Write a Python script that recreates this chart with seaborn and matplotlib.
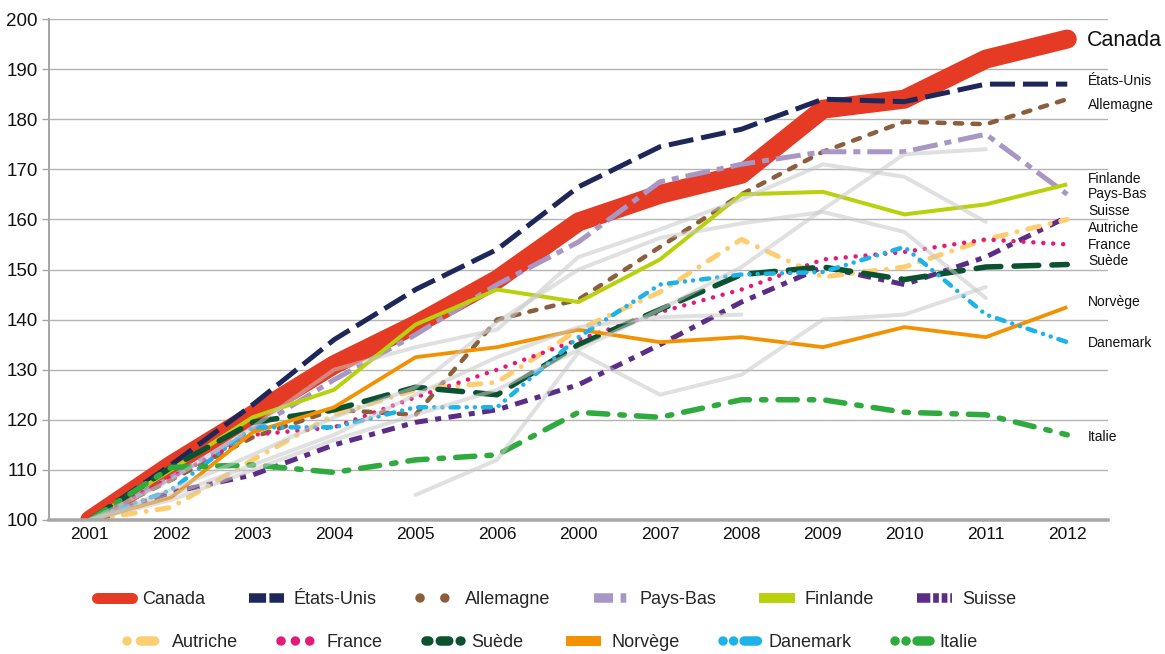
import numpy as np
import matplotlib
matplotlib.use("Agg")
import matplotlib.pyplot as plt
import matplotlib.transforms as mtransforms
from matplotlib.lines import Line2D
import seaborn as sns

# Périodes (ordre d'affichage sur l'axe horizontal)
periodes = ["2001", "2002", "2003", "2004", "2005", "2006", "2000",
            "2007", "2008", "2009", "2010", "2011", "2012"]

# Indices (base 100)
canada     = [100, 111, 121, 131, 139, 148, 159.5, 165, 169, 182, 184, 192, 196]
etats_unis = [100, 111, 123, 136, 146, 154, 166.5, 174.5, 178, 184, 183.5, 187, 187]
allemagne  = [100, 108, 116.5, 122, 121, 140, 144, 154.5, 165, 173.5, 179.5, 179, 184]
pays_bas   = [100, 108.5, 118, 128, 137, 147, 155.5, 167.5, 171, 173.5, 173.5, 177, 165]
finlande   = [100, 110, 120.5, 126, 139, 146, 143.5, 152, 165, 165.5, 161, 163, 167]
suisse     = [100, 105.5, 109, 115, 119.5, 122, 127, 135, 143.5, 150.5, 147, 152.5, 160.5]
autriche   = [100, 102.5, 112, 121, 126, 127.5, 138, 145.5, 156, 148.5, 150.5, 156, 160]
france     = [100, 108.5, 117, 118.5, 124.5, 130, 136, 141.5, 146, 152, 153.5, 156, 155]
suede      = [100, 110.5, 119.5, 122, 126.5, 125, 135, 142, 149, 150.5, 148, 150.5, 151]
norvege    = [100, 104.5, 117.5, 122.5, 132.5, 134.5, 138, 135.5, 136.5, 134.5, 138.5, 136.5, 142.5]
danemark   = [100, 106, 118.5, 118.5, 122.5, 122.5, 136.5, 147, 149, 149.5, 154.5, 141, 135.5]
italie     = [100, 110.5, 111, 109.5, 112, 113, 121.5, 120.5, 124, 124, 121.5, 121, 117]

# Autres pays de comparaison (non nommés)
autre_1 = [np.nan, np.nan, np.nan, np.nan, 105, 112, 133.5, 125, 129, 140, 141, 146.5, np.nan]
autre_2 = [100, 104, 110, 116, 121, 126, 134, 142, 150.5, 162, 173, 174, np.nan]
autre_3 = [100, 106, 113, 120.5, 126.5, 139.5, 150, 156.3, 159.2, 161.5, 157.5, 144.3, np.nan]
autre_4 = [100, 108, 118.5, 130, 134.5, 138, 152.5, 158, 164, 171, 168.5, 159.5, np.nan]
autre_5 = [100, 105, 111, 117, 125, 132.5, 138.5, 140.5, 141, np.nan, np.nan, np.nan, np.nan]
autres = [autre_1, autre_2, autre_3, autre_4, autre_5]

# Étiquettes en bout de courbe
etiquettes = ["Canada", "États-Unis", "Allemagne", "Finlande", "Pays-Bas", "Suisse",
              "Autriche", "France", "Suède", "Norvège", "Danemark", "Italie"]
etiquettes_y = [195.8, 187.6, 182.8, 168.0, 165.0, 161.7,
                158.2, 154.8, 151.7, 143.5, 135.3, 116.6]

sns.set_theme(style="white")
plt.rcParams["font.family"] = ["Liberation Sans", "DejaVu Sans"]

PX = 72 / 100  # points per pixel at dpi 100

fig = plt.figure(figsize=(11.65, 6.54), dpi=100)
ax = fig.add_axes([49 / 1165, 1 - 520 / 654, (1108 - 49) / 1165, (520 - 19) / 654])
pos = np.arange(len(periodes))

# name, values, color, width(px), dashes, capstyle, legend dashes
series = [
    ("Canada", canada, "#E53A24", 19, None, "round", None),
    ("États-Unis", etats_unis, "#1E2759", 5, (5, 1.6), "butt", (1.8, 0.35)),
    ("Allemagne", allemagne, "#8C5E3C", 4.5, (1.6, 2.3), "round", (0.01, 2.6)),
    ("Pays-Bas", pays_bas, "#A896C4", 5, (5, 1.4, 1.4, 1.4), "butt", (2.0, 0.8, 0.6, 0.8)),
    ("Finlande", finlande, "#B9D10D", 4, None, "butt", None),
    ("Suisse", suisse, "#5C2D86", 5, (2.6, 1.5, 1.2, 1.5), "butt", (1.4, 0.3, 0.6, 0.3, 0.6, 0.3)),
    ("Autriche", autriche, "#FDCD72", 5, (2.4, 2.2, 0.01, 2.2), "round", (0.01, 1.4, 1.5, 5)),
    ("France", france, "#E6197B", 4.5, (0.01, 2.2), "round", (0.01, 1.5)),
    ("Suède", suede, "#0A5230", 5.5, (4.5, 2.4), "round", (0.3, 1.2, 0.9, 1.2, 0.9, 5)),
    ("Norvège", norvege, "#F39100", 3.8, None, "butt", None),
    ("Danemark", danemark, "#1DB3E8", 4.5, (1.8, 1.8, 0.01, 1.8, 0.01, 1.8), "round",
     (0.01, 1.1, 0.01, 1.1, 1.4, 5)),
    ("Italie", italie, "#2FAA3E", 5.5, (3.5, 2.2, 0.8, 2.2), "round", (0.01, 1.15, 0.01, 1.15, 1.4, 5)),
]

for i, (nom, vals, col, wpx, dsh, cap, _) in enumerate(series):
    kw = dict(color=col, linewidth=wpx * PX, zorder=2 + i, errorbar=None, legend=False)
    if dsh is None:
        kw.update(solid_capstyle=cap, solid_joinstyle="round")
    else:
        kw.update(dashes=dsh, dash_capstyle=cap, dash_joinstyle="round")
    sns.lineplot(x=pos, y=vals, ax=ax, **kw)

# lignes grises de comparaison, semi-transparentes par-dessus
for vals in autres:
    sns.lineplot(x=pos, y=vals, ax=ax, color="#C8C8C8", alpha=0.55, linewidth=4 * PX,
                 zorder=20, errorbar=None, legend=False, solid_capstyle="round")

ax.set_xlim(-0.5, len(periodes) - 0.5)
ax.set_ylim(100, 200)
ax.set_yticks(np.arange(100, 201, 10))
ax.set_xticks(pos)
ax.set_xticklabels(periodes)
ax.set_xlabel("")
ax.set_ylabel("")

ax.grid(axis="y", color="#B4B4B4", linewidth=1.4 * PX, zorder=0)
ax.grid(axis="x", visible=False)
ax.set_axisbelow(True)
for s in ("top", "right"):
    ax.spines[s].set_visible(False)
ax.spines["left"].set_color("#A6A6A6")
ax.spines["left"].set_linewidth(2 * PX)
ax.spines["bottom"].set_color("#A6A6A6")
ax.spines["bottom"].set_linewidth(3.5 * PX)
ax.spines["bottom"].set_zorder(30)
ax.tick_params(axis="y", which="both", left=True, length=5, width=1.4 * PX,
               color="#A6A6A6", labelsize=13.5, pad=3, labelcolor="#111111")
ax.tick_params(axis="x", length=0, labelsize=12.5, pad=5, labelcolor="#111111")

# étiquettes à droite
trans = mtransforms.blended_transform_factory(ax.transAxes, ax.transData)
for nom, yv in zip(etiquettes, etiquettes_y):
    big = nom == "Canada"
    ax.text(0.980 if big else 0.981, yv, nom, transform=trans, va="center", ha="left",
            fontsize=15.5 if big else 10, color="#111111", clip_on=False)

# légende en deux rangées
def proxy(col, wpx, dsh, cap):
    lw = wpx * PX
    if dsh is None:
        return Line2D([], [], color=col, linewidth=lw, solid_capstyle=cap)
    return Line2D([], [], color=col, linewidth=lw, dashes=dsh, dash_capstyle=cap)

handles = []
for nom, vals, col, wpx, dsh, cap, ldsh in series:
    if nom == "Canada":
        handles.append(proxy(col, 11, None, "round"))
    elif ldsh is None:
        handles.append(proxy(col, 10, None, "butt"))
    else:
        handles.append(proxy(col, 9.5, ldsh, cap))
noms = [s[0] for s in series]

leg_kw = dict(loc="center", ncol=6, frameon=False, fontsize=13, handlelength=1.95,
              handletextpad=0.55, columnspacing=2.4, borderaxespad=0, borderpad=0)
fig.legend(handles=handles[:6], labels=noms[:6], bbox_to_anchor=(0.478, 0.083), **leg_kw)
fig.legend(handles=handles[6:], labels=noms[6:], bbox_to_anchor=(0.474, 0.017), **leg_kw)

fig.savefig("out.png", dpi=100, facecolor="white")
